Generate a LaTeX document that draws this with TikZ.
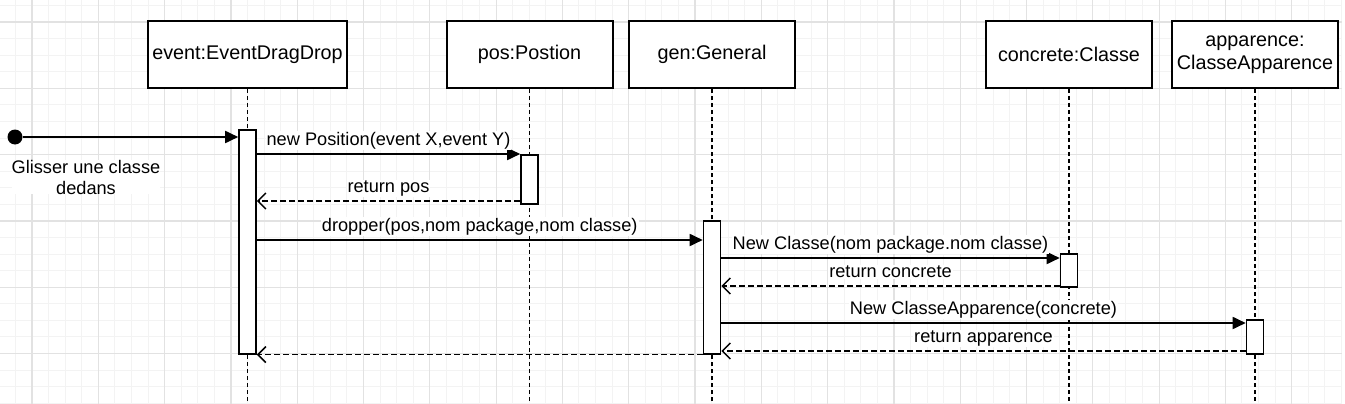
\documentclass[tikz,border=0pt]{standalone}
\usepackage{fontspec}
\setmainfont{Liberation Sans}
\usetikzlibrary{positioning, arrows.meta}
\definecolor{gridmajor}{HTML}{E2E2E2}
\definecolor{gridminor}{HTML}{F3F3F3}
\tikzset{
    lifehead/.style={
           rectangle,
           draw=black, line width=2pt, fill=white,
           minimum width=166pt, minimum height=67pt,
           inner sep=2pt,
           align=center,
           font=\fontsize{19.8}{23}\selectfont,
           },
    activ/.style={rectangle, draw=black, line width=1.6pt, fill=white,
           minimum width=17pt, inner sep=0pt, anchor=north},
    lifeline/.style={line width=1.5pt, dash pattern=on 4pt off 3pt},
    call/.style={line width=1.8pt, -{Triangle[length=13pt,width=12pt]}},
    reply/.style={line width=1.6pt, dash pattern=on 6pt off 3pt,
           -{Straight Barb[length=8pt,width=16pt,line width=1.5pt]}},
    msg/.style={midway, anchor=base, yshift=8.5pt, fill=white, inner sep=1pt,
           font=\fontsize{18.2}{21}\selectfont},
}

\begin{document}
\begin{tikzpicture}[x=1pt, y=-1pt, semithick]
  \useasboundingbox[fill=white] (0,0) rectangle (1345,404);
  % grid
  \foreach \i in {0,...,80} \draw[gridminor, line width=1pt] ({15.4+16.575*\i},0) -- ({15.4+16.575*\i},404);
  \foreach \i in {0,...,24} \draw[gridminor, line width=1pt] (0,{5.4+16.575*\i}) -- (1342,{5.4+16.575*\i});
  \foreach \i in {0,...,19} \draw[gridmajor, line width=1.2pt] ({32+66.3*\i},0) -- ({32+66.3*\i},404);
  \foreach \i in {0,...,5} \draw[gridmajor, line width=1.2pt] (0,{22+66.3*\i}) -- (1342,{22+66.3*\i});

  % rows
  \coordinate (bot) at (0,404);
  \coordinate (r1) at (0,154);
  \coordinate (r2) at (0,201);
  \coordinate (r3) at (0,240);
  \coordinate (r4) at (0,258);
  \coordinate (r5) at (0,286);
  \coordinate (r6) at (0,323);
  \coordinate (r7) at (0,351);

  \node[lifehead, minimum width=199pt] (event) at (247.5,54.5) {event:EventDragDrop};
  \node[lifehead, right of=event, node distance=282pt]   (pos)      {pos:Postion};
  \node[lifehead, right of=pos, node distance=182.5pt]   (gen)      {gen:General};
  \node[lifehead, right of=gen, node distance=357pt]     (concrete) {concrete:Classe};
  \node[lifehead, right of=concrete, node distance=186pt] (app)     {apparence:\\ClasseApparence};

  \foreach \n in {event, pos, gen, concrete, app}
    \draw[lifeline] (\n.south) -- (\n.south |- bot);

  \node[activ, minimum height=224pt] (evA)  at (247.5,129) {};
  \node[activ, minimum height=49pt]  (posA) at (529.5,154) {};
  \node[activ, minimum height=133pt] (genA) at (712,220)   {};
  \node[activ, minimum height=33pt]  (conA) at (1069,253)  {};
  \node[activ, minimum height=34pt]  (appA) at (1255,319)  {};

  \node[circle, fill=black, minimum size=15pt, inner sep=0pt] (start) at (15,137) {};
  \node[align=center, fill=white, inner sep=0pt, font=\fontsize{18.2}{21}\selectfont] (glisser) at (86,177) {Glisser une classe\\dedans};

  \draw[call]  (start) -- (evA.west |- start);
  \draw[call]  (evA.east |- r1) -- node[msg]{new Position(event X,event Y)} (posA.west |- r1);
  \draw[reply] (posA.west |- r2) -- node[msg]{return pos} (evA.east |- r2);
  \draw[call]  (evA.east |- r3) -- node[msg]{dropper(pos,nom package,nom classe)} (genA.west |- r3);
  \draw[call]  (genA.east |- r4) -- node[msg]{New Classe(nom package.nom classe)} (conA.west |- r4);
  \draw[reply] (conA.west |- r5) -- node[msg]{return concrete} (genA.east |- r5);
  \draw[call]  (genA.east |- r6) -- node[msg]{New ClasseApparence(concrete)} (appA.west |- r6);
  \draw[reply] (appA.west |- r7) -- node[msg]{return apparence} (genA.east |- r7);
  \draw[reply] (genA.south west) -- (evA.south east);
\end{tikzpicture}
\end{document}
